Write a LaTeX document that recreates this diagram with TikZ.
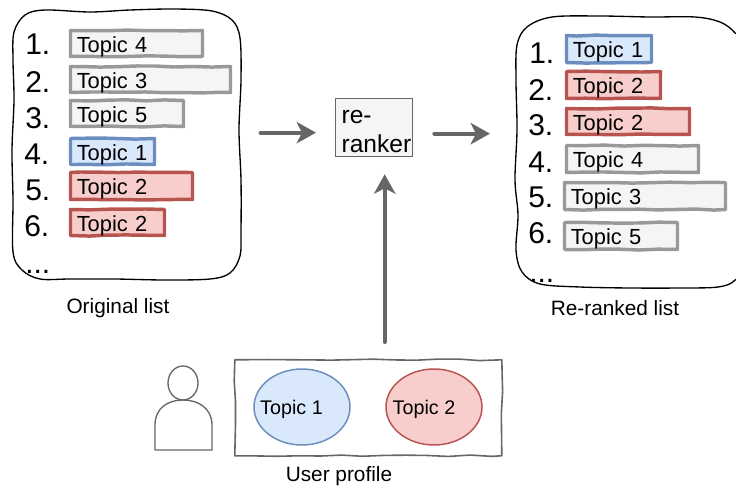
\documentclass[tikz,border=0pt]{standalone}
\usepackage{fontspec}
\setmainfont{Liberation Sans}
\usetikzlibrary{arrows.meta,decorations.pathmorphing,shapes.geometric,calc}
\definecolor{grayline}{HTML}{999999}
\definecolor{grayfill}{HTML}{F5F5F5}
\definecolor{blueline}{HTML}{6C8EBF}
\definecolor{bluefill}{HTML}{DAE8FC}
\definecolor{redline}{HTML}{B85450}
\definecolor{redfill}{HTML}{F8CECC}
\definecolor{darkline}{HTML}{666666}
\newcommand{\topicbar}[7]{%
  \node[topicbar,#6,anchor=north west,
    minimum height={(#5-#4-3)*0.75pt},
    text width={(#3-#2-3)*0.75pt-9.4pt}] (#1) at (#2+1.5,#4+1.5) {\raisebox{-6.4pt}[0pt][0pt]{#7}};}
\newcommand{\rankno}[4]{\node[rankno,anchor=base west] (#1) at (#2,#3) {#4};}
\tikzset{
  topicbar/.style={rectangle,draw,line width=2.6pt,line join=round,outer sep=0pt,inner xsep=4.7pt,inner ysep=0pt,
    align=left,font=\fontsize{16.4}{18}\selectfont,decorate,
    decoration={random steps,segment length=14pt,amplitude=0.45pt}},
  graybar/.style={draw=grayline,fill=grayfill},
  bluebar/.style={draw=blueline,fill=bluefill},
  redbar/.style={draw=redline,fill=redfill},
  rankno/.style={inner sep=0pt,font=\fontsize{22.5}{24}\selectfont},
  frameanchor/.style={rectangle,inner sep=0pt,anchor=north west},
  frameline/.style={draw=black,line width=1pt},
  wobblebox/.style={rectangle,draw=darkline,line width=1.2pt,line join=round,inner sep=0pt,decorate,
    decoration={random steps,segment length=16pt,amplitude=0.6pt}},
  caption/.style={inner sep=0pt,font=\fontsize{15.6}{18}\selectfont},
  flow/.style={draw=darkline,line width=3pt,line cap=round,
    -{Stealth[length=14.5pt,width=16pt,inset=4pt]}},
  topicblob/.style={ellipse,line width=1.1pt,inner sep=0pt,minimum width=72pt,minimum height=57pt},
  bloblabel/.style={inner sep=0pt,font=\fontsize{14.8}{17}\selectfont}
}
\pgfmathsetseed{7}
\begin{document}
\begin{tikzpicture}[x=0.75pt,y=-0.75pt]
\useasboundingbox (0,0) rectangle (736,489);
% frames
\node[frameanchor,minimum width=171pt,minimum height=202.5pt] (orig) at (13,10) {};
\node[frameanchor,minimum width=168pt,minimum height=203pt] (rerk) at (516,17) {};
\draw[frameline] plot[smooth cycle,tension=0.55] coordinates {
  (45,10) (90,12) (130,10) (175,9) (212,11) (232,20) (240,38) (241,80) (239,130) (241,180) (241,230) (240,256)
  (230,273) (210,279) (165,280) (115,279) (70,279) (40,279) (22,270) (13,252) (13,200) (12,150) (14,100) (13,60) (14,32) (25,15)};
\draw[frameline] plot[smooth cycle,tension=0.55] coordinates {
  (552,17) (600,16) (650,17) (695,17) (720,22) (735,33) (742,50) (742,260) (735,280) (718,287) (680,288) (630,288)
  (580,287) (540,284) (522,272) (516,250) (518,215) (515,180) (517,130) (516,80) (517,45) (527,27)};
% left list
\rankno{la}{25}{54}{1.}
\rankno{lb}{25}{92}{2.}
\rankno{lc}{25}{128}{3.}
\rankno{ld}{24}{164}{4.}
\rankno{le}{25}{200}{5.}
\rankno{lf}{24}{236}{6.}
\rankno{lg}{25}{273}{...}
\topicbar{ba}{69}{204}{29}{58}{graybar}{Topic 4}
\topicbar{bb}{69}{232}{65}{94}{graybar}{Topic 3}
\topicbar{bc}{69}{185}{99}{128}{graybar}{Topic 5}
\topicbar{bd}{69}{156}{137}{166}{bluebar}{Topic 1}
\topicbar{be}{69}{194}{171}{201}{redbar}{Topic 2}
\topicbar{bf}{69}{166}{208}{237}{redbar}{Topic 2}
% right list
\rankno{ra}{529}{63}{1.}
\rankno{rb}{528}{100}{2.}
\rankno{rc}{528}{135}{3.}
\rankno{rd}{528}{172}{4.}
\rankno{re}{528}{207}{5.}
\rankno{rf}{528}{243}{6.}
\rankno{rg}{529}{282}{...}
\topicbar{ca}{565}{653}{34}{64}{bluebar}{Topic 1}
\topicbar{cb}{565}{662}{70}{100}{redbar}{Topic 2}
\topicbar{cc}{565}{691}{107}{136}{redbar}{Topic 2}
\topicbar{cd}{565}{700}{144}{174}{graybar}{Topic 4}
\topicbar{ce}{563}{727}{181}{211}{graybar}{Topic 3}
\topicbar{cf}{563}{679}{221}{251}{graybar}{Topic 5}
% captions
\node[caption] (origcap) at (118,308) {Original list};
\node[caption] (rerkcap) at (615,308) {Re-ranked list};
\node[caption] (usercap) at (339,476) {User profile};
% re-ranker
\node[rectangle,draw=darkline,fill=grayfill,line width=1pt,anchor=north west,
  minimum width=57.75pt,minimum height=43.5pt,inner xsep=4.5pt,inner ysep=0pt,
  text width=48.75pt,align=left,font=\fontsize{18.4}{21.75}\selectfont] (rerank) at (335,98)
  {\raisebox{-7.9pt}[0pt][0pt]{re-}\\\raisebox{-7.9pt}[0pt][0pt]{ranker}};
% connectors
\draw[flow,shorten <=14.25pt,shorten >=14.25pt] ([yshift=-3.75pt]rerank.west -| orig.east) -- ([yshift=-3.75pt]rerank.west);
\draw[flow,shorten <=15.75pt,shorten >=19.5pt] ([yshift=-4.5pt]rerank.east) -- ([yshift=-4.5pt]rerank.east -| rerk.west);
% user profile
\node[wobblebox,minimum width=200.25pt,minimum height=72pt,anchor=north west] (profile) at (234,359) {};
\node[topicblob,draw=blueline,fill=bluefill] (blobA) at (302,407) {};
\node[topicblob,draw=redline,fill=redfill] (blobB) at (434,407) {};
\node[bloblabel] (blobAt) at (291.5,409) {Topic 1};
\node[bloblabel] (blobBt) at (424,409) {Topic 2};
\draw[flow,shorten <=12.75pt,shorten >=12.75pt] ([xshift=7.9pt]profile.north -| rerank.south) -- ([xshift=7.9pt]rerank.south);
% person
\node[ellipse,draw=darkline,line width=1pt,inner sep=0pt,minimum width=22.5pt,minimum height=25.5pt] (head) at (183,383) {};
\draw[darkline,line width=1pt] (155,450) -- (155,425) .. controls (155,408) and (168,400) .. (183,400)
  .. controls (198,400) and (212,408) .. (212,425) -- (212,450) -- cycle;
\end{tikzpicture}
\end{document}
